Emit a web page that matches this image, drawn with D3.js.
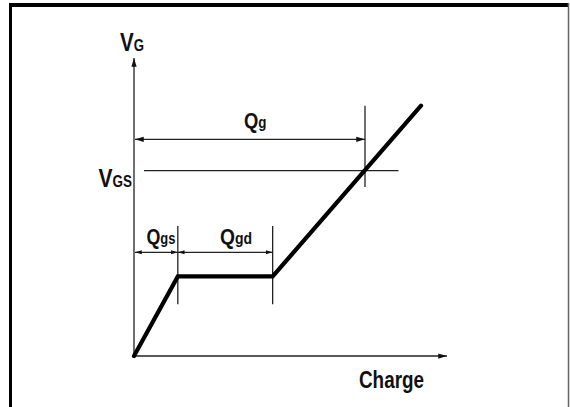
<!DOCTYPE html>
<html>
<head>
<meta charset="utf-8">
<script src="https://cdn.jsdelivr.net/npm/d3@7.9.0/dist/d3.min.js"></script>
<style>
  html, body { margin: 0; padding: 0; background: #ffffff; }
  svg { display: block; }
  text { font-family: "Liberation Sans Narrow", "Liberation Sans", Arial, sans-serif; font-weight: bold; fill: #111; }
</style>
</head>
<body>
<div id="chart"></div>
<script>
// gate charge curve (charge units, gate voltage units)
const chargePts = [0, 14, 44.3, 91.7];
const gatePts = [0, 26.7, 26.7, 84];

// annotation levels
const vgsLevel = 62.2;
const qgCharge = 73.8;
const qgArrowLevel = 72.7;
const splitArrowLevel = 34.8;
const markerSpan = [17.4, 43.6];
const qgMarkerSpan = [56.7, 84];
const vgsLineSpan = [3.2, 84.5];

const width = 570;
const height = 407;

const x = d3.scaleLinear().domain([0, 100]).range([134, 447]);
const y = d3.scaleLinear().domain([0, 100]).range([356, 58]);

const svg = d3.select("#chart")
  .append("svg")
  .attr("width", width)
  .attr("height", height);

const defs = svg.append("defs");
defs.append("marker")
  .attr("id", "arrow")
  .attr("viewBox", "0 -4 10 8")
  .attr("refX", 10)
  .attr("refY", 0)
  .attr("markerUnits", "userSpaceOnUse")
  .attr("markerWidth", 10)
  .attr("markerHeight", 7)
  .attr("orient", "auto-start-reverse")
  .append("path")
  .attr("d", "M0,-3L10,0L0,3Z")
  .attr("fill", "#111");

defs.append("marker")
  .attr("id", "small")
  .attr("viewBox", "0 -4 9 8")
  .attr("refX", 9)
  .attr("refY", 0)
  .attr("markerUnits", "userSpaceOnUse")
  .attr("markerWidth", 9)
  .attr("markerHeight", 6)
  .attr("orient", "auto-start-reverse")
  .append("path")
  .attr("d", "M0,-2.6L9,0L0,2.6Z")
  .attr("fill", "#111");

// frame
svg.append("line")
  .attr("x1", 9).attr("x2", 569).attr("y1", 5).attr("y2", 5)
  .attr("stroke", "#000").attr("stroke-width", 4);
svg.append("line")
  .attr("x1", 10.5).attr("x2", 10.5).attr("y1", 3).attr("y2", height)
  .attr("stroke", "#000").attr("stroke-width", 3);
svg.append("line")
  .attr("x1", 568.5).attr("x2", 568.5).attr("y1", 3).attr("y2", height)
  .attr("stroke", "#666").attr("stroke-width", 1.5);

function seg(x1, y1, x2, y2, marker) {
  const l = svg.append("line")
    .attr("x1", x1).attr("y1", y1).attr("x2", x2).attr("y2", y2)
    .attr("stroke", "#222").attr("stroke-width", 1.3);
  if (marker) l.attr("marker-end", `url(#${marker})`);
  return l;
}

// axes
seg(x(0), y(0), x(0), y(100), "arrow");
seg(x(0), y(0), x(100), y(0), "arrow");

// VGS level line
seg(x(vgsLineSpan[0]), y(vgsLevel), x(vgsLineSpan[1]), y(vgsLevel));

// Qg marker and arrow
seg(x(qgCharge), y(qgMarkerSpan[0]), x(qgCharge), y(qgMarkerSpan[1]));
seg(x(0) + 1, y(qgArrowLevel), x(qgCharge), y(qgArrowLevel), "arrow")
  .attr("marker-start", "url(#arrow)");

// knee markers
[chargePts[1], chargePts[2]].forEach(c => {
  seg(x(c), y(markerSpan[0]), x(c), y(markerSpan[1]));
});

// Qgs and Qgd arrows
seg(x(0) + 1, y(splitArrowLevel), x(chargePts[1]), y(splitArrowLevel), "small")
  .attr("marker-start", "url(#small)");
seg(x(chargePts[1]), y(splitArrowLevel), x(chargePts[2]), y(splitArrowLevel), "small")
  .attr("marker-start", "url(#small)");

// gate charge curve
const line = d3.line()
  .x((d, i) => x(chargePts[i]))
  .y(d => y(d));

svg.append("path")
  .datum(gatePts)
  .attr("d", line)
  .attr("fill", "none")
  .attr("stroke", "#000")
  .attr("stroke-width", 4.2)
  .attr("stroke-linejoin", "miter")
  .attr("stroke-linecap", "round");

// labels: main glyph + subscript run
const labels = [
  { main: "V", sub: "G", x: 120, y: 51, w: 24, ms: 25, ss: 16 },
  { main: "V", sub: "GS", x: 98.5, y: 187, w: 33.5, ms: 25, ss: 16 },
  { main: "Q", sub: "g", x: 244, y: 128, w: 22.5, ms: 22, ss: 16 },
  { main: "Q", sub: "gs", x: 146.5, y: 244, w: 29, ms: 22, ss: 16 },
  { main: "Q", sub: "gd", x: 220, y: 244, w: 32, ms: 22, ss: 16 }
];

labels.forEach(d => {
  const t = svg.append("text")
    .attr("x", d.x).attr("y", d.y)
    .attr("textLength", d.w)
    .attr("lengthAdjust", "spacingAndGlyphs");
  t.append("tspan").attr("font-size", d.ms).text(d.main);
  t.append("tspan").attr("font-size", d.ss).text(d.sub);
});

svg.append("text")
  .attr("x", 359).attr("y", 388)
  .attr("font-size", 24)
  .attr("textLength", 65)
  .attr("lengthAdjust", "spacingAndGlyphs")
  .text("Charge");
</script>
</body>
</html>
